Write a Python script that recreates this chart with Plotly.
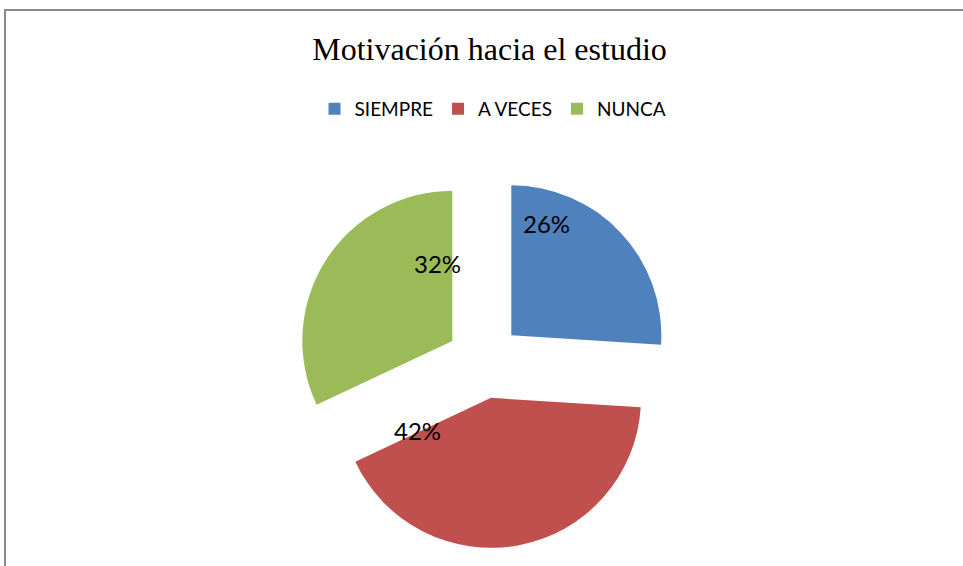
import plotly.graph_objects as go

categories = ["SIEMPRE", "A VECES", "NUNCA"]
values = [26, 42, 32]
colors = ["#4F81BD", "#C0504D", "#9BBB59"]
label_texts = [f"{v}%" for v in values]

W, H = 963, 566

def px(x):
    return x / W

def py(y):
    return 1 - y / H

# pie geometry (pixels): centre and outer size of the pulled pie
cx, cy, half = 484, 361, 187.5

fig = go.Figure()
fig.add_trace(go.Pie(
    labels=categories,
    values=values,
    sort=False,
    direction="clockwise",
    rotation=0,
    pull=[0.25, 0.25, 0.25],
    marker=dict(colors=colors, line=dict(width=0)),
    textinfo="none",
    hoverinfo="label+percent",
    domain=dict(x=[px(cx - half), px(cx + half)], y=[py(cy + half), py(cy - half)]),
))

# data label positions (Excel "best fit")
label_pos = [(546, 224), (417, 430), (437, 263)]
annotations = []
for t, (lx, ly) in zip(label_texts, label_pos):
    annotations.append(dict(
        x=px(lx), y=py(ly), xref="paper", yref="paper", text=t, showarrow=False,
        xanchor="center", yanchor="middle",
        font=dict(family="Lato", size=24, color="#000000"),
    ))

shapes = [
    dict(type="line", xref="paper", yref="paper", x0=px(4), x1=1, y0=py(10), y1=py(10),
         line=dict(color="#8A8A8A", width=2)),
    dict(type="line", xref="paper", yref="paper", x0=px(5), x1=px(5), y0=py(10), y1=0,
         line=dict(color="#8A8A8A", width=2)),
]

fig.update_layout(
    width=W, height=H, autosize=False,
    margin=dict(l=0, r=0, t=0, b=0),
    paper_bgcolor="white", plot_bgcolor="white",
    title=dict(text="Motivación hacia el estudio", x=px(489.5), xanchor="center",
               y=py(49), yanchor="middle", yref="container",
               font=dict(family="Liberation Serif", size=32, color="#000000")),
    showlegend=True,
    legend=dict(orientation="h", x=px(493), xanchor="center", y=py(109), yanchor="middle",
                font=dict(family="Lato", size=19, color="#000000"),
                bgcolor="rgba(0,0,0,0)", traceorder="normal"),
    annotations=annotations,
    shapes=shapes,
)

fig.write_html("out.html", config={"displayModeBar": False})

# remove the default page margin so the figure fills the window exactly
with open("out.html", "r", encoding="utf-8") as f:
    html = f.read()
html = html.replace("<head>", "<head><style>html,body{margin:0;padding:0;overflow:hidden;}</style>", 1)
with open("out.html", "w", encoding="utf-8") as f:
    f.write(html)
